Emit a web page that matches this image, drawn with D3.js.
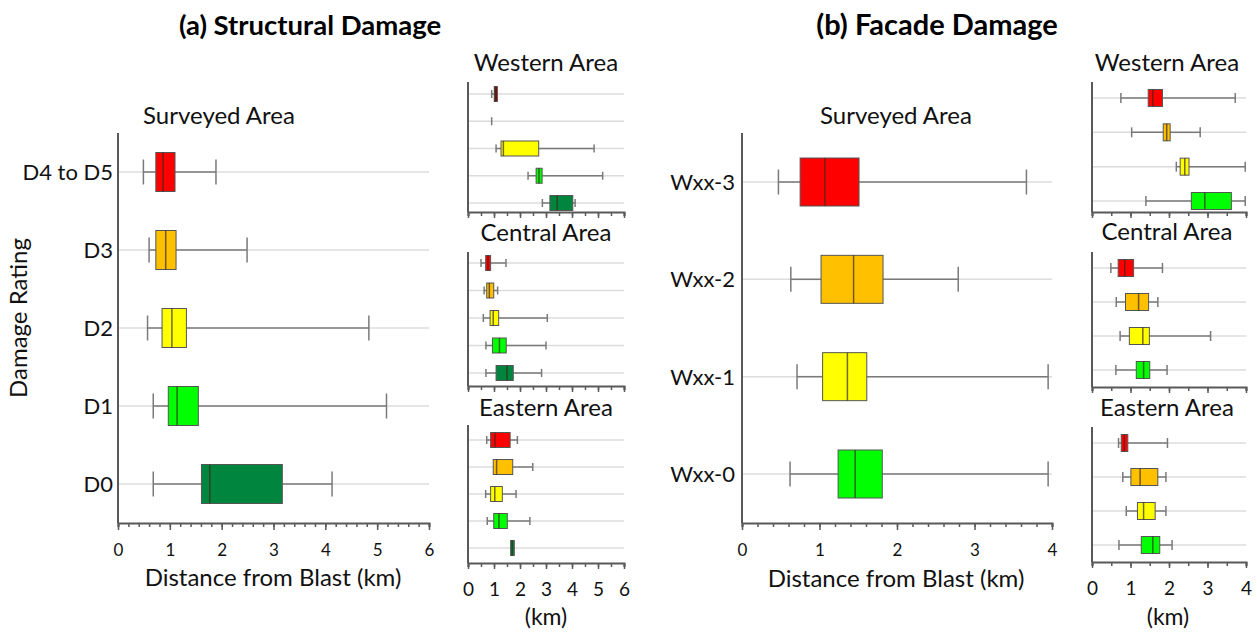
<!DOCTYPE html>
<html>
<head>
<meta charset="utf-8">
<script src="https://cdn.jsdelivr.net/npm/d3@7"></script>
<style>
  html, body { margin: 0; padding: 0; background: #fff; }
  svg { display: block; font-family: Lato, "Open Sans", sans-serif; }
</style>
</head>
<body>
<svg id="chart" width="1257" height="632"></svg>
<script>
// Damage ratings (top to bottom) and fill colours
const structuralRatings = ["D4 to D5", "D3", "D2", "D1", "D0"];
const structuralColors = ["#FF0000", "#FFC000", "#FFFF00", "#00FF00", "#00853E"];
const structuralWesternColors = ["#8B0000", "#FFC000", "#FFFF00", "#00FF00", "#00853E"];
const facadeRatings = ["Wxx-3", "Wxx-2", "Wxx-1", "Wxx-0"];
const facadeColors = ["#FF0000", "#FFC000", "#FFFF00", "#00FF00"];

// Box statistics in km: [lower whisker, Q1, median, Q3, upper whisker]
const structSurveyed = [[0.49,0.73,0.87,1.10,1.89],[0.60,0.73,0.92,1.12,2.49],[0.57,0.85,1.04,1.32,4.84],[0.68,0.97,1.14,1.55,5.18],[0.68,1.61,1.77,3.17,4.13]];
const structWestern  = [[0.91,1.01,1.05,1.13,1.13],[0.91,0.91,0.91,0.91,0.91],[1.08,1.27,1.36,2.72,4.85],[2.31,2.62,2.73,2.85,5.18],[2.86,3.15,3.43,4.03,4.12]];
const structCentral  = [[0.50,0.68,0.77,0.87,1.46],[0.62,0.72,0.82,0.99,1.14],[0.59,0.85,0.97,1.18,3.05],[0.69,0.94,1.21,1.47,3.00],[0.69,1.08,1.50,1.74,2.83]];
const structEastern  = [[0.72,0.87,1.04,1.62,1.90],[0.97,0.97,1.10,1.72,2.49],[0.68,0.87,1.03,1.32,1.85],[0.74,0.99,1.19,1.51,2.38],[1.64,1.64,1.70,1.78,1.78]];

const facadeSurveyed = [[0.47,0.75,1.07,1.51,3.67],[0.63,1.02,1.44,1.82,2.79],[0.71,1.04,1.36,1.61,3.95],[0.62,1.24,1.46,1.81,3.95]];
const facadeWestern  = [[0.75,1.46,1.58,1.83,3.72],[1.03,1.85,1.94,2.03,2.81],[2.19,2.29,2.41,2.52,3.98],[1.40,2.58,2.93,3.62,3.98]];
const facadeCentral  = [[0.49,0.68,0.85,1.08,1.83],[0.63,0.87,1.21,1.47,1.71],[0.73,0.97,1.32,1.49,3.08],[0.62,1.15,1.34,1.50,1.95]];
const facadeEastern  = [[0.69,0.76,0.84,0.93,1.96],[0.80,1.01,1.25,1.71,1.92],[0.89,1.18,1.34,1.64,1.92],[0.70,1.28,1.58,1.76,2.08]];

const structTicks = [0, 1, 2, 3, 4, 5, 6];
const facadeTicks = [0, 1, 2, 3, 4];

const AXIS = "#595959", GRID = "#dcdcdc", WHISK = "#7a7a7a", TEXT = "#111";
const svg = d3.select("#chart");

function boxPanel(opt) {
  const g = svg.append("g");
  const x = d3.scaleLinear().domain(opt.domain).range([opt.x0, opt.x1]);
  const y = d3.scalePoint().domain(opt.cats).range([opt.rowTop, opt.rowBot]);
  const bh = opt.boxH, ch = opt.capH;

  // grid lines
  g.selectAll(".grid").data(opt.cats).join("line")
    .attr("x1", opt.x0).attr("x2", opt.x1)
    .attr("y1", d => y(d)).attr("y2", d => y(d))
    .attr("stroke", GRID).attr("stroke-width", 1.5);

  const rows = g.selectAll(".row").data(opt.data).join("g")
    .attr("transform", (d, i) => `translate(0,${y(opt.cats[i])})`);

  // whiskers
  rows.append("line")
    .attr("x1", d => x(d[0])).attr("x2", d => x(d[1]))
    .attr("stroke", WHISK).attr("stroke-width", 1.5);
  rows.append("line")
    .attr("x1", d => x(d[3])).attr("x2", d => x(d[4]))
    .attr("stroke", WHISK).attr("stroke-width", 1.5);
  rows.filter(d => d[0] < d[1] || d[0] === d[4]).append("line")
    .attr("x1", d => x(d[0])).attr("x2", d => x(d[0]))
    .attr("y1", -ch / 2).attr("y2", ch / 2)
    .attr("stroke", WHISK).attr("stroke-width", 1.5);
  rows.filter(d => d[4] > d[3]).append("line")
    .attr("x1", d => x(d[4])).attr("x2", d => x(d[4]))
    .attr("y1", -ch / 2).attr("y2", ch / 2)
    .attr("stroke", WHISK).attr("stroke-width", 1.5);

  // boxes
  rows.filter(d => d[3] > d[1]).append("rect")
    .attr("x", d => x(d[1])).attr("width", d => x(d[3]) - x(d[1]))
    .attr("y", -bh / 2).attr("height", bh)
    .attr("fill", d => opt.colors[opt.data.indexOf(d)])
    .attr("stroke", "#555").attr("stroke-width", 1);
  rows.filter(d => d[3] > d[1]).append("line")
    .attr("x1", d => x(d[2])).attr("x2", d => x(d[2]))
    .attr("y1", -bh / 2).attr("y2", bh / 2)
    .attr("stroke", "#3a2a1a").attr("stroke-opacity", 0.7).attr("stroke-width", 1.5);

  // left axis line
  g.append("line").attr("x1", opt.x0).attr("x2", opt.x0)
    .attr("y1", opt.yTop).attr("y2", opt.yBot)
    .attr("stroke", AXIS).attr("stroke-width", 2);

  // bottom axis: minor ticks then major ticks with labels
  const minor = d3.axisBottom(x).tickValues(d3.range(opt.domain[0], opt.domain[1] + 1e-9, opt.minorStep))
    .tickSize(opt.minorLen).tickFormat("");
  const ga = g.append("g").attr("transform", `translate(0,${opt.yBot})`).call(minor);
  ga.select(".domain").attr("stroke", AXIS).attr("stroke-width", 2);
  ga.selectAll(".tick line").attr("stroke", AXIS).attr("stroke-width", 1.5);
  const major = d3.axisBottom(x).tickValues(opt.ticks).tickSize(opt.majorLen).tickPadding(opt.tickPad)
    .tickFormat(opt.showLabels ? d3.format("d") : "");
  const gm = g.append("g").attr("transform", `translate(0,${opt.yBot})`).call(major);
  gm.select(".domain").remove();
  gm.selectAll(".tick line").attr("stroke", AXIS).attr("stroke-width", 1.5);
  gm.selectAll(".tick text").attr("fill", TEXT)
    .style("font-family", "Lato, sans-serif").style("font-size", opt.tickFont + "px");

  // category labels
  if (opt.catLabels) {
    g.selectAll(".cat").data(opt.cats).join("text")
      .attr("x", opt.catX).attr("y", d => y(d)).attr("dy", "0.36em")
      .attr("text-anchor", "end").attr("fill", TEXT)
      .style("font-size", opt.catFont + "px").text(d => d);
  }
  // panel title
  g.append("text").attr("x", opt.titleX).attr("y", opt.titleY)
    .attr("text-anchor", "middle").attr("fill", TEXT)
    .style("font-size", opt.titleFont + "px").text(opt.title);
  return x;
}

function heading(text, xc, yb, size) {
  svg.append("text").attr("x", xc).attr("y", yb).attr("text-anchor", "middle")
    .attr("fill", "#000").style("font-size", size + "px").style("font-weight", "bold").text(text);
}
function label(text, xc, yb, size, rotate) {
  const t = svg.append("text").attr("text-anchor", "middle").attr("fill", TEXT)
    .style("font-size", size + "px").text(text);
  if (rotate) t.attr("transform", `translate(${xc},${yb}) rotate(-90)`);
  else t.attr("x", xc).attr("y", yb);
}

// ---------- (a) Structural damage ----------
heading("(a) Structural Damage", 310, 35, 27.5);
boxPanel({
  cats: structuralRatings, data: structSurveyed, colors: structuralColors,
  domain: [0, 6], ticks: structTicks, x0: 118, x1: 429,
  yTop: 133, yBot: 523, rowTop: 172, rowBot: 484, boxH: 39, capH: 25,
  minorStep: 0.2, minorLen: 4, majorLen: 7, tickPad: 14, tickFont: 17, showLabels: true,
  catLabels: true, catX: 113, catFont: 22,
  title: "Surveyed Area", titleX: 219, titleY: 124, titleFont: 24
});
label("Distance from Blast (km)", 273, 586, 24);
label("Damage Rating", 27, 318, 24, true);

const smallA = { domain: [0, 6], ticks: structTicks, x0: 468, x1: 624, boxH: 15, capH: 8,
  minorStep: 0.5, minorLen: 4, majorLen: 6, tickPad: 14, tickFont: 19, titleX: 546, titleFont: 24,
  cats: structuralRatings };
boxPanel(Object.assign({}, smallA, { data: structWestern, colors: structuralWesternColors,
  yTop: 82, yBot: 212, rowTop: 94, rowBot: 203, showLabels: false, title: "Western Area", titleY: 71 }));
boxPanel(Object.assign({}, smallA, { data: structCentral, colors: structuralColors,
  yTop: 252, yBot: 386, rowTop: 263, rowBot: 373, showLabels: false, title: "Central Area", titleY: 241 }));
boxPanel(Object.assign({}, smallA, { data: structEastern, colors: structuralColors,
  yTop: 425, yBot: 563, rowTop: 440, rowBot: 548, showLabels: true, title: "Eastern Area", titleY: 416 }));
label("(km)", 546, 625, 23);

// ---------- (b) Facade damage ----------
heading("(b) Facade Damage", 937, 35, 29);
boxPanel({
  cats: facadeRatings, data: facadeSurveyed, colors: facadeColors,
  domain: [0, 4], ticks: facadeTicks, x0: 742, x1: 1052,
  yTop: 133, yBot: 523, rowTop: 182, rowBot: 474, boxH: 48, capH: 25,
  minorStep: 0.2, minorLen: 4, majorLen: 7, tickPad: 14, tickFont: 17, showLabels: true,
  catLabels: true, catX: 735, catFont: 22,
  title: "Surveyed Area", titleX: 896, titleY: 124, titleFont: 24
});
label("Distance from Blast (km)", 896, 587, 24);

const smallB = { domain: [0, 4], ticks: facadeTicks, x0: 1092, x1: 1246, boxH: 17, capH: 10,
  minorStep: 0.5, minorLen: 4, majorLen: 6, tickPad: 14, tickFont: 19, titleX: 1167, titleFont: 24,
  cats: facadeRatings, colors: facadeColors };
boxPanel(Object.assign({}, smallB, { data: facadeWestern,
  yTop: 82, yBot: 212, rowTop: 98, rowBot: 201, showLabels: false, title: "Western Area", titleY: 71 }));
boxPanel(Object.assign({}, smallB, { data: facadeCentral,
  yTop: 252, yBot: 387, rowTop: 268, rowBot: 370, showLabels: false, title: "Central Area", titleY: 240 }));
boxPanel(Object.assign({}, smallB, { data: facadeEastern,
  yTop: 427, yBot: 562, rowTop: 443, rowBot: 545, showLabels: true, title: "Eastern Area", titleY: 416 }));
label("(km)", 1168, 625, 23);
</script>
</body>
</html>
